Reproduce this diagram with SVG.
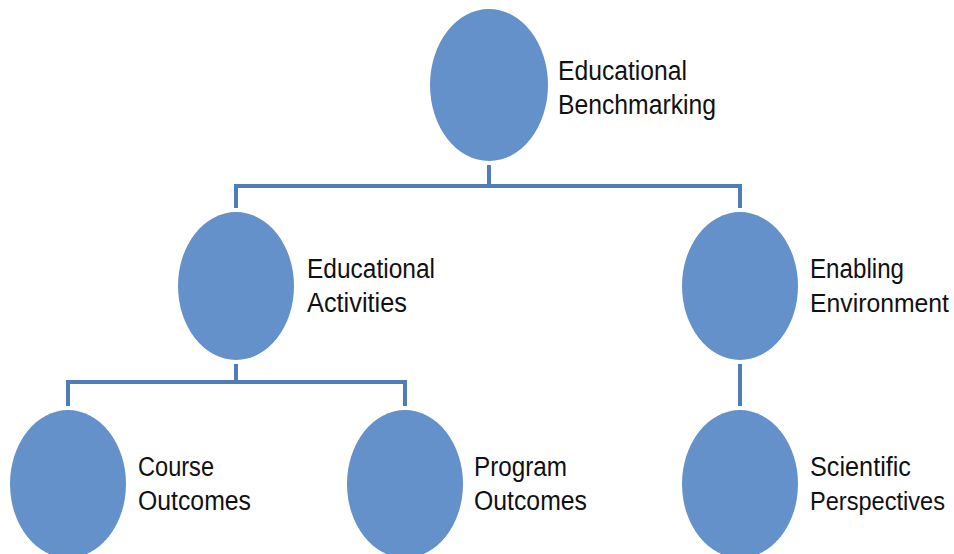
<svg xmlns="http://www.w3.org/2000/svg" width="954" height="554" viewBox="0 0 954 554">
<style>
.n{fill:#6591CA;}
.c{stroke:#4E7EBA;stroke-width:4;fill:none;}
.t{font-family:"Liberation Sans",Arial,sans-serif;font-size:27px;fill:#111;}
.s{font-size:25px;}
</style>
<rect width="954" height="554" fill="#fff"/>
<g id="connectors">
<path class="c" d="M489 165V186M236 208V186H740V208"/>
<path class="c" d="M236 364V382M68 406V382H405V406"/>
<path class="c" d="M740 364V406"/>
</g>
<g id="n1"><ellipse class="n" cx="489" cy="85" rx="59" ry="76"/>
<text class="t" x="558" y="80" textLength="129" lengthAdjust="spacingAndGlyphs">Educational</text>
<text class="t" x="558" y="114" textLength="158" lengthAdjust="spacingAndGlyphs">Benchmarking</text></g>
<g id="n2"><ellipse class="n" cx="236" cy="286" rx="58" ry="74"/>
<text class="t" x="307" y="278" textLength="128" lengthAdjust="spacingAndGlyphs">Educational</text>
<text class="t" x="307" y="312" textLength="100" lengthAdjust="spacingAndGlyphs">Activities</text></g>
<g id="n3"><ellipse class="n" cx="740" cy="286" rx="58" ry="74"/>
<text class="t" x="810" y="278" textLength="94" lengthAdjust="spacingAndGlyphs">Enabling</text>
<text class="t s" x="810" y="312" textLength="139" lengthAdjust="spacingAndGlyphs">Environment</text></g>
<g id="n4"><ellipse class="n" cx="68" cy="484" rx="58" ry="74"/>
<text class="t" x="138" y="476" textLength="76" lengthAdjust="spacingAndGlyphs">Course</text>
<text class="t" x="138" y="510" textLength="113" lengthAdjust="spacingAndGlyphs">Outcomes</text></g>
<g id="n5"><ellipse class="n" cx="405" cy="484" rx="58" ry="74"/>
<text class="t" x="474" y="476" textLength="93" lengthAdjust="spacingAndGlyphs">Program</text>
<text class="t" x="474" y="510" textLength="113" lengthAdjust="spacingAndGlyphs">Outcomes</text></g>
<g id="n6"><ellipse class="n" cx="740" cy="484" rx="58" ry="74"/>
<text class="t" x="810" y="476" textLength="101" lengthAdjust="spacingAndGlyphs">Scientific</text>
<text class="t s" x="810" y="510" textLength="135" lengthAdjust="spacingAndGlyphs">Perspectives</text></g>
</svg>
